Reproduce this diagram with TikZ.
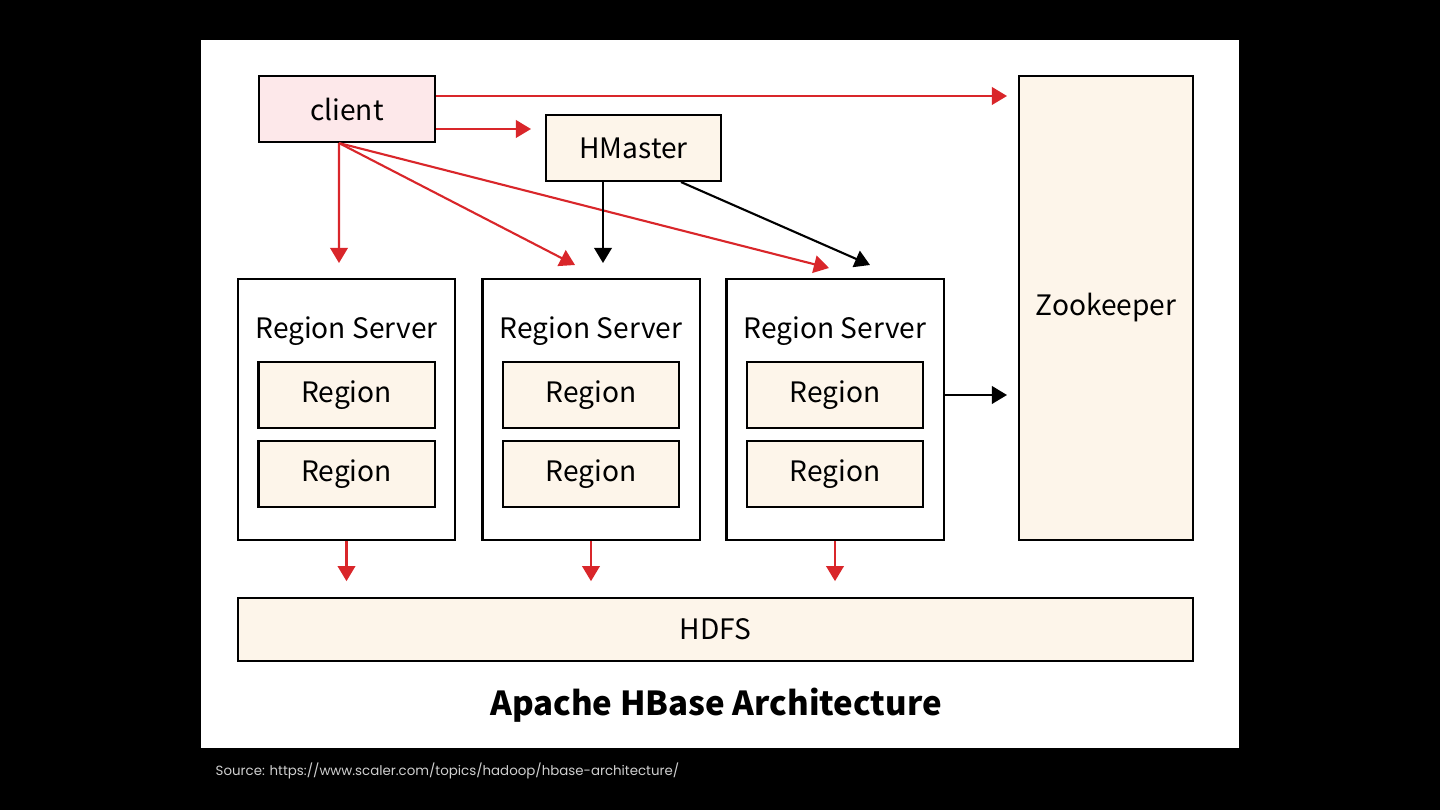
\documentclass[tikz,border=0pt]{standalone}
\usepackage{fontspec}
\usepackage{xcolor}
\usetikzlibrary{positioning, arrows.meta}
\setmainfont{Noto Sans CJK SC}
\newfontfamily\srcfont{Poppins}
\definecolor{hbred}{HTML}{D9262A}
\definecolor{cream}{HTML}{FDF5EA}
\definecolor{pinkish}{HTML}{FDE8EA}
\definecolor{srcgray}{HTML}{CFCFCF}

\begin{document}
\begin{tikzpicture}[x=0.01cm, y=-0.01cm, font=\fontsize{8}{10}\selectfont,
  box/.style={draw=black, line width=0.6pt, inner sep=0pt},
  regionbox/.style={box, fill=cream, minimum width=1.76cm, minimum height=0.66cm},
  serverbox/.style={box, fill=white, minimum width=2.17cm, minimum height=2.61cm},
  redarrow/.style={hbred, line width=0.6pt, -{Triangle[length=4.3pt, width=5pt]}},
  blackarrow/.style={black, line width=0.6pt, -{Triangle[length=4.3pt, width=5pt]}}]
  \fill[black] (0,0) rectangle (1440,810);
  \fill[white] (201,40) rectangle (1239,748);
  \useasboundingbox (0,0) rectangle (1440,810);

  \node[box, fill=pinkish, minimum width=1.76cm, minimum height=0.66cm] (client) at (347,109) {client};
  \node[box, fill=cream, minimum width=1.75cm, minimum height=0.66cm] (hmaster) at (633.5,148) {HMaster};
  \node[box, fill=cream, minimum width=1.74cm, minimum height=4.64cm] (zk) at (1106,308) {Zookeeper};

  \foreach \i/\x in {1/346.5, 2/591, 3/835} {
    \node[serverbox] (rs\i) at (\x,409.5) {};
    \node (rs\i title) at ([yshift=-0.53cm]rs\i.north) {Region Server};
    \node[regionbox] (rs\i a) at (\x,395) {Region};
    \node[regionbox] (rs\i b) at (\x,474) {Region};
  }

  \node[box, fill=cream, minimum width=9.55cm, minimum height=0.63cm] (hdfs) at (715.5,629.5) {HDFS};
  \node[font=\fontsize{9.4}{11}\selectfont\bfseries] (title) at (716,705) {Apache HBase Architecture};
  \node[anchor=west, inner sep=0pt, text=srcgray, font=\srcfont\fontsize{3.8}{5}\selectfont] (source) at (215,771)
    {Source: https://www.scaler.com/topics/hadoop/hbase-architecture/};

  % client arrows
  \coordinate (tozk) at (1007,96);
  \coordinate (tohm) at (531,129);
  \coordinate (tors1) at (339,263);
  \coordinate (tors2) at (575,265);
  \coordinate (tors3) at (829,268);
  \draw[redarrow] (client.east |- tozk) -- (tozk);
  \draw[redarrow] (client.east |- tohm) -- (tohm);
  \foreach \t in {tors1, tors2, tors3}
    \draw[redarrow] ([xshift=-0.08cm]client.south) -- (\t);

  % hmaster arrows
  \coordinate (hmrs2) at (603,263);
  \coordinate (hmrs3) at (870,265);
  \draw[blackarrow] (hmaster.south -| hmrs2) -- (hmrs2);
  \draw[blackarrow] ([xshift=0.475cm]hmaster.south) -- (hmrs3);

  % region server to zookeeper
  \coordinate (rszk) at (1007,395);
  \draw[blackarrow] (rs3.east |- rszk) -- (rszk);

  % region servers to hdfs
  \foreach \i in {1,2,3} {
    \coordinate (hd\i) at ([yshift=-0.4cm]rs\i.south);
    \draw[redarrow] (rs\i.south) -- (hd\i);
  }
\end{tikzpicture}
\end{document}
